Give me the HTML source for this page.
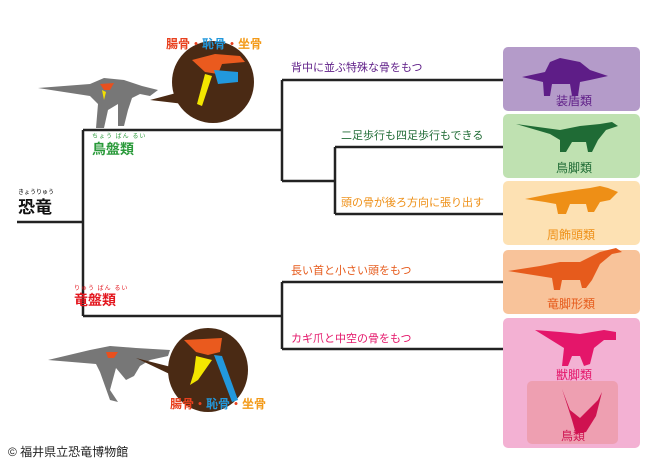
<!DOCTYPE html>
<html><head><meta charset="utf-8"><style>
body{margin:0;background:#fff;width:656px;height:467px;overflow:hidden;position:relative;font-family:"Liberation Sans","Noto Sans CJK JP",sans-serif}
.t{position:absolute;white-space:nowrap;line-height:1}
.r{font-size:6px;letter-spacing:1px}
</style></head><body>
<svg width="656" height="467" style="position:absolute;left:0;top:0">
<g stroke="#222" stroke-width="2.5" fill="none">
<path d="M17 222H83M83 130V316M83 130H282M83 316H282M282 80V181M282 80H503M282 181H335M335 147V214M335 147H503M335 214H503M282 282V349M282 282H503M282 349H503"/>
</g>
<rect x="503" y="47" width="137" height="64" rx="5" fill="#b49bc9"/>
<rect x="503" y="114" width="137" height="64" rx="5" fill="#bfe1b1"/>
<rect x="503" y="181" width="137" height="64" rx="5" fill="#fde1b3"/>
<rect x="503" y="250" width="137" height="64" rx="5" fill="#f8c39a"/>
<rect x="503" y="318" width="137" height="130" rx="5" fill="#f3b1d3"/>
<rect x="527" y="381" width="91" height="63" rx="5" fill="#ee9fb1"/>
<path d="M522 77 L545 72 L550 62 L560 58 L570 60 L580 62 L590 70 L608 76 L590 80 L580 82 L578 96 L572 96 L570 84 L552 84 L550 96 L544 96 L543 82 Z" fill="#5e1d87"/>
<path d="M516 124 L560 130 L580 126 L600 124 L612 122 L618 126 L606 130 L598 140 L592 152 L588 152 L586 142 L572 142 L566 152 L560 152 L560 140 L550 134 Z" fill="#1f6b35"/>
<path d="M525 199 L550 194 L575 190 L590 188 L600 186 L608 188 L618 192 L610 200 L600 202 L594 212 L588 212 L586 204 L570 204 L566 214 L558 214 L556 204 L545 202 Z" fill="#ee8f16"/>
<path d="M508 271 L540 266 L560 262 L580 262 L600 252 L616 248 L622 252 L612 254 L600 264 L592 280 L586 288 L582 288 L580 280 L562 280 L560 290 L554 290 L552 278 Z" fill="#e65b1c"/>
<path d="M535 330 L560 332 L580 334 L604 330 L616 332 L616 340 L604 340 L594 348 L590 364 L584 366 L580 356 L572 356 L568 366 L562 366 L564 348 Z" fill="#e4166a"/>
<path d="M562 389 L570 410 L580 418 L598 400 L602 392 L596 416 L586 432 L576 434 L572 420 Z" fill="#cf1250"/>
<path d="M38 88 L90 84 L104 78 L124 80 L142 86 L158 90 L150 96 L140 94 L132 98 L128 110 L124 126 L118 126 L118 104 L108 110 L104 128 L96 128 L98 104 L90 96 Z" fill="#777"/>
<path d="M100 84 L114 83 L110 90 L104 90 Z" fill="#e8501e"/>
<path d="M102 90 L104 100 L106 92 Z" fill="#f3e100"/>
<path d="M48 360 L90 350 L110 346 L136 348 L170 350 L168 356 L150 360 L140 366 L134 376 L126 380 L116 368 L110 390 L118 402 L110 400 L100 372 L96 364 Z" fill="#777"/>
<path d="M106 352 L118 352 L114 358 L108 358 Z" fill="#e8501e"/>
<path d="M150 100 L180 92 L184 104 Z" fill="#4a2a14"/>
<circle cx="213" cy="82" r="41" fill="#4a2a14"/>
<path d="M192 60 L215 54 L240 56 L245 62 L222 64 L218 74 L205 72 Z" fill="#ea5a1e"/>
<path d="M205 74 L212 76 L202 106 L197 104 Z" fill="#f3e600"/>
<path d="M214 70 L238 72 L238 82 L218 84 Z" fill="#2298dc"/>
<path d="M136 358 L175 368 L178 378 Z" fill="#4a2a14"/>
<ellipse cx="208" cy="370" rx="40" ry="42" fill="#4a2a14"/>
<path d="M184 340 L222 338 L220 352 L208 355 L196 352 Z" fill="#ea5a1e"/>
<path d="M196 356 L212 360 L198 380 L190 385 L194 372 Z" fill="#f3e600"/>
<path d="M214 355 L222 356 L238 400 L232 402 Z" fill="#2298dc"/>
</svg>
<div class="t" style="left:18px;top:190px;font-size:6px">きょうりゅう</div>
<div class="t" style="left:18px;top:199px;font-size:17px;font-weight:bold;color:#111">恐竜</div>
<div class="t r" style="left:92px;top:134px;color:#2a9a3a">ちょう ばん るい</div>
<div class="t" style="left:92px;top:142px;font-size:14px;font-weight:bold;color:#2a9a3a">鳥盤類</div>
<div class="t r" style="left:74px;top:286px;color:#e3161e">りゅう ばん るい</div>
<div class="t" style="left:74px;top:293px;font-size:14px;font-weight:bold;color:#e3161e">竜盤類</div>
<div class="t" style="left:166px;top:38px;font-size:12px;font-weight:bold;color:#e8401e">腸骨・<span style="color:#2298dc">恥骨</span>・<span style="color:#f39a18">坐骨</span></div>
<div class="t" style="left:170px;top:398px;font-size:12px;font-weight:bold;color:#e8401e">腸骨・<span style="color:#2298dc">恥骨</span>・<span style="color:#f39a18">坐骨</span></div>
<div class="t" style="left:291px;top:63px;font-size:11px;color:#5e1d87">背中に並ぶ特殊な骨をもつ</div>
<div class="t" style="left:341px;top:131px;font-size:11px;color:#1f6b35">二足歩行も四足歩行もできる</div>
<div class="t" style="left:341px;top:198px;font-size:11px;color:#ee8f16">頭の骨が後ろ方向に張り出す</div>
<div class="t" style="left:291px;top:266px;font-size:11px;color:#e65b1c">長い首と小さい頭をもつ</div>
<div class="t" style="left:291px;top:334px;font-size:11px;color:#e4166a">カギ爪と中空の骨をもつ</div>
<div class="t" style="left:556px;top:95px;font-size:12px;color:#5e1d87">装盾類</div>
<div class="t" style="left:556px;top:162px;font-size:12px;color:#1f6b35">鳥脚類</div>
<div class="t" style="left:547px;top:229px;font-size:12px;color:#ee8f16">周飾頭類</div>
<div class="t" style="left:547px;top:298px;font-size:12px;color:#e65b1c">竜脚形類</div>
<div class="t" style="left:556px;top:369px;font-size:12px;color:#e4166a">獣脚類</div>
<div class="t" style="left:561px;top:430px;font-size:12px;color:#cf1250">鳥類</div>
<div class="t" style="left:8px;top:446px;font-size:12px;color:#222">© 福井県立恐竜博物館</div>
</body></html>
